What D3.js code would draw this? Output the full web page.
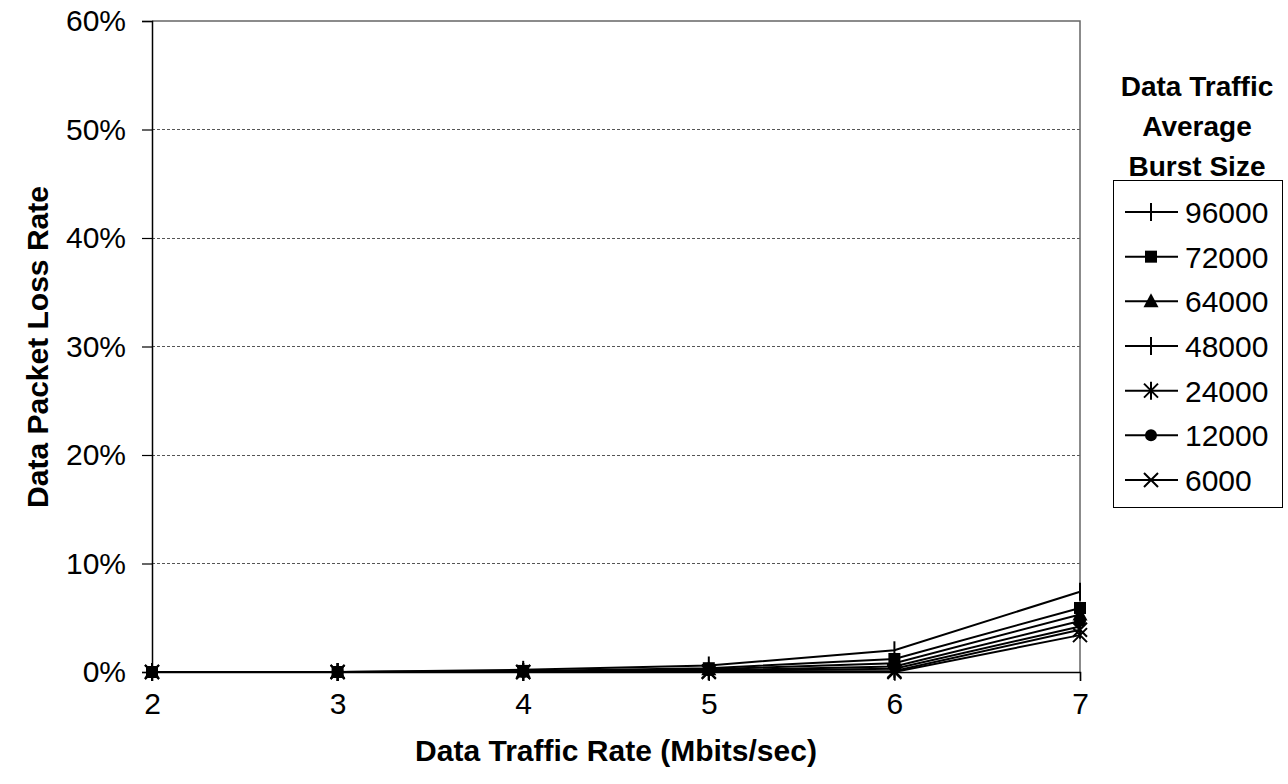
<!DOCTYPE html>
<html>
<head>
<meta charset="utf-8">
<script src="https://cdn.jsdelivr.net/npm/d3@7"></script>
<style>
  html, body { margin: 0; padding: 0; background: #fff; }
  svg { display: block; font-family: Arial, "Liberation Sans", sans-serif; }
</style>
</head>
<body>
<svg id="chart" width="1288" height="784"></svg>
<script>
// Data traffic rate (Mbits/sec) on the x axis
const rates = [2, 3, 4, 5, 6, 7];

// Loss rate (fraction) per average burst size
const burstSizes = ["96000", "72000", "64000", "48000", "24000", "12000", "6000"];
const loss96000 = [0, 0, 0.002, 0.006, 0.020, 0.074];
const loss72000 = [0, 0, 0.001, 0.0035, 0.012, 0.059];
const loss64000 = [0, 0, 0.0005, 0.0025, 0.008, 0.053];
const loss48000 = [0, 0, 0, 0.001, 0.003, 0.042];
const loss24000 = [0, 0, 0, 0.0005, 0.001, 0.039];
const loss12000 = [0, 0, 0, 0.0015, 0.005, 0.047];
const loss6000  = [0, 0, 0, 0, 0, 0.034];
const symbols = ["plus", "square", "triangle", "plus", "asterisk", "circle", "cross"];

const yTicks = [0, 0.1, 0.2, 0.3, 0.4, 0.5, 0.6];

const series = [loss96000, loss72000, loss64000, loss48000, loss24000, loss12000, loss6000]
  .map((vals, i) => ({ name: burstSizes[i], symbol: symbols[i], values: vals }));

const svg = d3.select("#chart");
const plot = { left: 152, right: 1080, top: 21, bottom: 672 };

const x = d3.scaleLinear().domain([2, 7]).range([plot.left, plot.right]);
const y = d3.scaleLinear().domain([0, 0.6]).range([plot.bottom, plot.top]);

// Horizontal gridlines
svg.append("g")
  .selectAll("line")
  .data(yTicks.filter(t => t > 0 && t < 0.6))
  .join("line")
  .attr("x1", plot.left).attr("x2", plot.right)
  .attr("y1", d => y(d)).attr("y2", d => y(d))
  .attr("stroke", "#555").attr("stroke-width", 1)
  .attr("stroke-dasharray", "3,2")
  .attr("shape-rendering", "crispEdges");

// Plot frame (top and right edges)
svg.append("path")
  .attr("d", `M${plot.left},${plot.top}H${plot.right}V${plot.bottom}`)
  .attr("fill", "none").attr("stroke", "#666").attr("stroke-width", 1.5);

// Y axis
const yAxis = svg.append("g")
  .attr("transform", `translate(${plot.left},0)`)
  .call(d3.axisLeft(y).tickValues(yTicks).tickFormat(d3.format(".0%")).tickSizeOuter(0).tickSize(10).tickPadding(16));
yAxis.select(".domain").attr("stroke", "#000").attr("stroke-width", 1.5);
yAxis.selectAll(".tick line").attr("stroke", "#000").attr("stroke-width", 1.2);
yAxis.selectAll("text").attr("font-size", 30).attr("fill", "#000")
  .attr("font-family", "Arial, 'Liberation Sans', sans-serif");

// X axis
const xAxis = svg.append("g")
  .attr("transform", `translate(0,${plot.bottom})`)
  .call(d3.axisBottom(x).tickValues(rates).tickFormat(d3.format("d")).tickSizeOuter(0).tickSize(9).tickPadding(12));
xAxis.select(".domain").attr("stroke", "#000").attr("stroke-width", 1.5);
xAxis.selectAll(".tick line").attr("stroke", "#000").attr("stroke-width", 1.2);
xAxis.selectAll("text").attr("font-size", 30).attr("fill", "#000")
  .attr("font-family", "Arial, 'Liberation Sans', sans-serif");

// Axis titles
svg.append("text")
  .attr("x", 616).attr("y", 761)
  .attr("text-anchor", "middle")
  .attr("font-size", 30).attr("font-weight", "bold")
  .text("Data Traffic Rate (Mbits/sec)");

svg.append("text")
  .attr("transform", "translate(48,347) rotate(-90)")
  .attr("text-anchor", "middle")
  .attr("font-size", 30).attr("font-weight", "bold")
  .text("Data Packet Loss Rate");

// Marker drawing
function drawMarker(g, type) {
  switch (type) {
    case "plus":
      g.append("path").attr("d", "M0,-9V9").attr("stroke", "#000").attr("stroke-width", 2);
      break;
    case "square":
      g.append("rect").attr("x", -6).attr("y", -6).attr("width", 12).attr("height", 12).attr("fill", "#000");
      break;
    case "triangle":
      g.append("path").attr("d", "M0,-8L7.5,6H-7.5Z").attr("fill", "#000");
      break;
    case "asterisk":
      g.append("path").attr("d", "M-7,-7L7,7M-7,7L7,-7M0,-9V9")
        .attr("stroke", "#000").attr("stroke-width", 2);
      break;
    case "circle":
      g.append("circle").attr("r", 6).attr("fill", "#000");
      break;
    case "cross":
      g.append("path").attr("d", "M-7,-7L7,7M-7,7L7,-7")
        .attr("stroke", "#000").attr("stroke-width", 2);
      break;
  }
}

// Series lines and markers
const line = d3.line().x((d, i) => x(rates[i])).y(d => y(d));
const gSeries = svg.append("g");
series.slice().reverse().forEach(s => {
  gSeries.append("path")
    .attr("d", line(s.values))
    .attr("fill", "none").attr("stroke", "#000").attr("stroke-width", 2);
  s.values.forEach((v, i) => {
    const m = gSeries.append("g").attr("transform", `translate(${x(rates[i])},${y(v)})`);
    drawMarker(m, s.symbol);
  });
});

// Legend title
const legTitle = ["Data Traffic", "Average", "Burst Size"];
svg.append("g").selectAll("text")
  .data(legTitle)
  .join("text")
  .attr("x", 1197)
  .attr("y", (d, i) => 96 + i * 40)
  .attr("text-anchor", "middle")
  .attr("font-size", 28).attr("font-weight", "bold")
  .text(d => d);

// Legend box and entries
const legend = svg.append("g");
legend.append("rect")
  .attr("x", 1113.5).attr("y", 180.5).attr("width", 169).attr("height", 327)
  .attr("fill", "#fff").attr("stroke", "#000").attr("stroke-width", 1);

const legY = d3.scalePoint().domain(burstSizes).range([212, 480]);
burstSizes.forEach((name, i) => {
  const cy = legY(name);
  legend.append("line")
    .attr("x1", 1125).attr("x2", 1178).attr("y1", cy).attr("y2", cy)
    .attr("stroke", "#000").attr("stroke-width", 2);
  drawMarker(legend.append("g").attr("transform", `translate(1151,${cy})`), symbols[i]);
  legend.append("text")
    .attr("x", 1185).attr("y", cy + 11)
    .attr("font-size", 30)
    .text(name);
});
</script>
</body>
</html>
